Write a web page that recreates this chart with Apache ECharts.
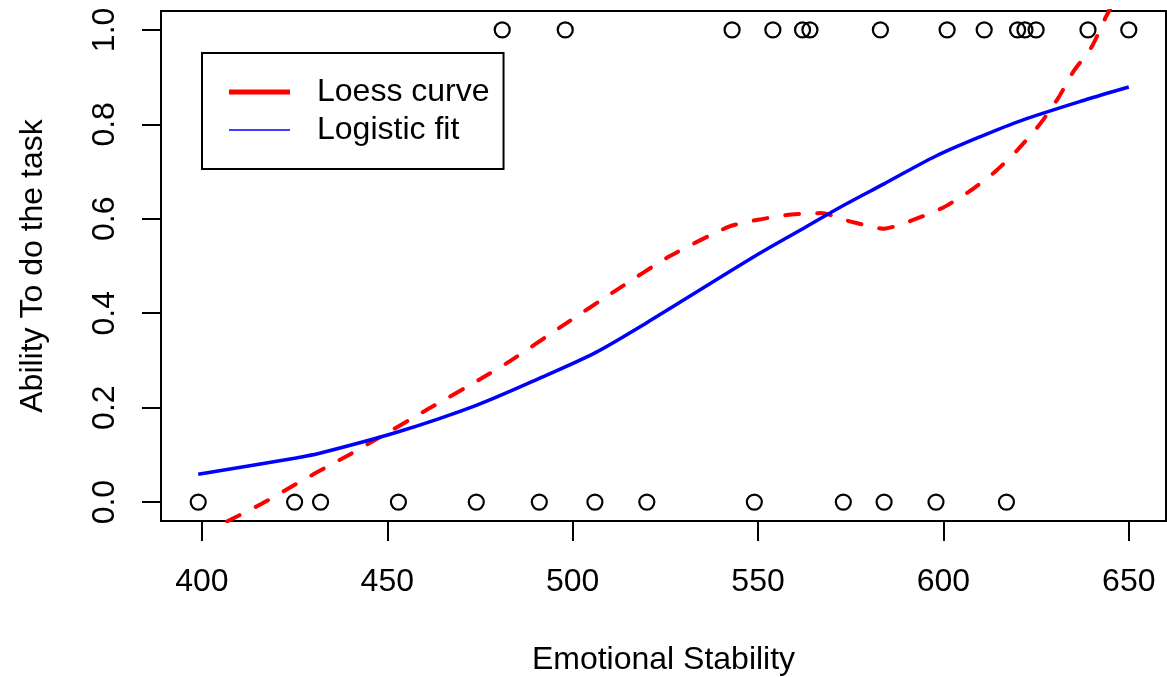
<!DOCTYPE html>
<html lang="en">
<head>
    <meta charset="UTF-8">
    <title>Emotional Stability</title>
    <style>
        html, body { margin: 0; padding: 0; background: #fff; }
        #main { width: 1167px; height: 677px; }
    </style>
</head>
<body>
<div id="main"></div>
<script src="https://cdn.jsdelivr.net/npm/echarts@6/dist/echarts.min.js"></script>
<script type="text/javascript">
    // observations (Ability = 1 and Ability = 0)
    const xOnes = [481, 498, 543, 554, 562, 564, 583, 601, 611, 620, 622, 625, 639, 650];
    const xZeros = [399, 425, 432, 453, 474, 491, 506, 520, 549, 573, 584, 598, 617];

    // loess curve
    const loessX = [399, 407, 416, 424, 431, 439, 447, 461, 475, 483, 497, 512, 526, 542, 550, 559, 567, 575, 584, 592, 600, 607, 614, 620, 626, 631, 635, 640, 644, 650];
    const loessY = [-0.07, -0.04, -0.004, 0.032, 0.063, 0.097, 0.133, 0.197, 0.26, 0.298, 0.372, 0.45, 0.52, 0.583, 0.598, 0.609, 0.612, 0.594, 0.579, 0.598, 0.624, 0.658, 0.70, 0.746, 0.80, 0.856, 0.911, 0.964, 1.03, 1.12];

    // logistic fit
    const fitX = [399, 425, 432, 453, 474, 491, 506, 520, 549, 563, 573, 584, 598, 610, 621, 638, 650];
    const fitY = [0.059, 0.093, 0.104, 0.149, 0.205, 0.262, 0.316, 0.38, 0.52, 0.583, 0.628, 0.674, 0.733, 0.774, 0.808, 0.851, 0.879];

    const xTicks = [400, 450, 500, 550, 600, 650];
    const yTicks = [0, 0.2, 0.4, 0.6, 0.8, 1.0];

    const font = 'Liberation Sans';
    const pair = (xs, ys) => xs.map((x, i) => [x, ys[i]]);

    let chart = echarts.init(document.getElementById('main'));
    chart.setOption({
        animation: false,
        textStyle: { fontFamily: font },
        grid: {
            left: 161, top: 11, right: 1, bottom: 156,
            outerBoundsMode: 'none',
            show: true, borderColor: '#000', borderWidth: 2, backgroundColor: 'transparent'
        },
        legend: {
            left: 202, top: 53,
            orient: 'vertical',
            padding: [20, 14, 20, 27],
            itemGap: 0,
            itemWidth: 61,
            itemHeight: 20,
            borderColor: '#000', borderWidth: 2,
            textStyle: { fontSize: 32, color: '#000', fontFamily: font, lineHeight: 38, padding: [0, 0, 0, 22] },
            data: [
                { name: 'Loess curve', icon: 'path://M0,0h61v5h-61z', itemStyle: { color: '#ff0000' } },
                { name: 'Logistic fit', icon: 'path://M0,0h61v1.5h-61z', itemStyle: { color: '#0000ff' } }
            ]
        },
        xAxis: {
            type: 'value',
            min: 388.96, max: 660.04,
            name: 'Emotional Stability',
            nameLocation: 'middle',
            nameGap: 123,
            nameTextStyle: { fontSize: 32, color: '#000', fontFamily: font },
            splitLine: { show: false },
            axisLine: { show: false, onZero: false },
            axisTick: { show: true, inside: false, length: 20, lineStyle: { color: '#000', width: 2 }, customValues: xTicks },
            axisLabel: { fontSize: 32, color: '#000', margin: 45, fontFamily: font, customValues: xTicks }
        },
        yAxis: {
            type: 'value',
            min: -0.04, max: 1.04,
            name: 'Ability To do the task',
            nameLocation: 'middle',
            nameGap: 112,
            nameRotate: 90,
            nameTextStyle: { fontSize: 32, color: '#000', fontFamily: font },
            splitLine: { show: false },
            axisLine: { show: false, onZero: false },
            axisTick: { show: true, inside: false, length: 19, lineStyle: { color: '#000', width: 2 }, customValues: yTicks },
            axisLabel: {
                fontSize: 32, color: '#000', margin: 40, rotate: 90, fontFamily: font,
                customValues: yTicks,
                formatter: v => v.toFixed(1)
            }
        },
        series: [
            {
                name: 'obs1', type: 'scatter',
                symbol: 'circle', symbolSize: 15,
                itemStyle: { color: 'rgba(0,0,0,0)', borderColor: '#000', borderWidth: 2.2, opacity: 1 },
                data: xOnes.map(x => [x, 1])
            },
            {
                name: 'obs0', type: 'scatter',
                symbol: 'circle', symbolSize: 15,
                itemStyle: { color: 'rgba(0,0,0,0)', borderColor: '#000', borderWidth: 2.2, opacity: 1 },
                data: xZeros.map(x => [x, 0])
            },
            {
                name: 'Loess curve', type: 'line',
                symbol: 'none', smooth: 0.2, clip: true,
                itemStyle: { color: '#ff0000' },
                lineStyle: { color: '#ff0000', width: 4, type: [14, 18], cap: 'round' },
                data: pair(loessX, loessY)
            },
            {
                name: 'Logistic fit', type: 'line',
                symbol: 'none', smooth: 0.3, clip: true,
                itemStyle: { color: '#0000ff' },
                lineStyle: { color: '#0000ff', width: 3.5 },
                data: pair(fitX, fitY)
            }
        ]
    });
</script>
</body>
</html>
